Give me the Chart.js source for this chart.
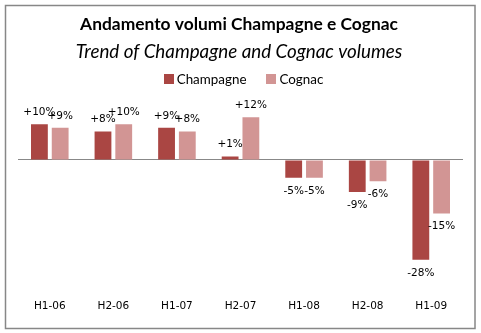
<!DOCTYPE html>
<html>
<head>
<meta charset="utf-8">
<script src="https://cdn.jsdelivr.net/npm/chart.js@4/dist/chart.umd.min.js"></script>
<style>
  html, body { margin: 0; padding: 0; background: #fff; }
  #wrap { position: relative; width: 481px; height: 333px; }
</style>
</head>
<body>
<div id="wrap"><canvas id="c" width="481" height="333"></canvas></div>
<script>
const categories = ['H1-06', 'H2-06', 'H1-07', 'H2-07', 'H1-08', 'H2-08', 'H1-09'];
const champagne = [10, 8, 9, 1, -5, -9, -28];
const cognac = [9, 10, 8, 12, -5, -6, -15];
const seriesNames = ['Champagne', 'Cognac'];
const titleText = 'Andamento volumi Champagne e Cognac';
const subtitleText = 'Trend of Champagne and Cognac volumes';

const labelFont = '10.5px "DejaVu Sans", sans-serif';
const legendFont = '13.4px Lato, sans-serif';

const frame = {
  id: 'frame',
  beforeDraw(chart) {
    const c = chart.ctx;
    c.save();
    c.fillStyle = '#fff';
    c.fillRect(0, 0, chart.width, chart.height);
    c.strokeStyle = '#878787';
    c.lineWidth = 1.5;
    c.strokeRect(5.5, 5.5, 469.5, 323);
    c.restore();
  }
};

// legend drawn from the datasets (names + colours)
const customLegend = {
  id: 'customLegend',
  afterDraw(chart) {
    const c = chart.ctx;
    c.save();
    c.font = legendFont;
    c.textBaseline = 'middle';
    const box = 10, gap = 3, spacing = 20, cy = 79;
    const items = chart.data.datasets.map(ds => ({ text: ds.label, color: ds.backgroundColor, w: c.measureText(ds.label).width }));
    const total = items.reduce((s, it) => s + box + gap + it.w, 0) + spacing * (items.length - 1);
    let x = chart.width / 2 - total / 2 + 3;
    items.forEach(it => {
      c.fillStyle = it.color;
      c.fillRect(Math.round(x), cy - 5, box, box);
      c.fillStyle = '#000';
      c.textAlign = 'left';
      c.fillText(it.text, x + box + gap, cy + 0.5);
      x += box + gap + it.w + spacing;
    });
    c.restore();
  }
};

const valueLabels = {
  id: 'valueLabels',
  afterDatasetsDraw(chart) {
    const c = chart.ctx;
    c.save();
    c.font = labelFont;
    c.fillStyle = '#000';
    c.textAlign = 'center';
    c.textBaseline = 'middle';
    chart.data.datasets.forEach((ds, i) => {
      const meta = chart.getDatasetMeta(i);
      meta.data.forEach((el, j) => {
        const v = ds.data[j];
        const txt = (v > 0 ? '+' : '') + v + '%';
        const y = v >= 0 ? el.y - 12 : el.y + 13;
        c.fillText(txt, el.x, y);
      });
    });
    c.restore();
  }
};

new Chart(document.getElementById('c'), {
  type: 'bar',
  data: {
    labels: categories,
    datasets: [
      { label: seriesNames[0], data: champagne, backgroundColor: '#AA4643', borderWidth: 0 },
      { label: seriesNames[1], data: cognac, backgroundColor: '#D29594', borderWidth: 0 }
    ]
  },
  options: {
    responsive: false,
    animation: false,
    events: [],
    categoryPercentage: 0.653,
    barPercentage: 0.81,
    layout: { padding: { left: 14, right: 17, top: 0, bottom: 0 } },
    plugins: {
      title: {
        display: true,
        text: titleText,
        color: '#000',
        font: { family: 'Lato', size: 17.4, weight: 'bold', lineHeight: 1.2 },
        padding: { top: 14, bottom: 5 }
      },
      subtitle: {
        display: true,
        text: subtitleText,
        color: '#000',
        font: { family: 'Lato', size: 18.8, style: 'italic', weight: 'normal', lineHeight: 1.2 },
        padding: { top: 1, bottom: 43 }
      },
      legend: { display: false },
      tooltip: { enabled: false }
    },
    scales: {
      x: {
        afterFit(scale) { scale.height = 66; },
        grid: { display: false, drawTicks: false },
        border: { display: false },
        ticks: { color: '#000', font: { family: '"DejaVu Sans", sans-serif', size: 10.5 }, padding: 33, maxRotation: 0 }
      },
      y: {
        min: -30,
        max: 15,
        afterFit(scale) { scale.width = 0; },
        ticks: { display: false, stepSize: 5 },
        border: { display: false },
        grid: {
          drawTicks: false,
          color: (ctx) => (ctx.tick && ctx.tick.value === 0) ? '#888888' : 'rgba(0,0,0,0)',
          lineWidth: 1
        }
      }
    }
  },
  plugins: [frame, valueLabels, customLegend]
});
</script>
</body>
</html>
